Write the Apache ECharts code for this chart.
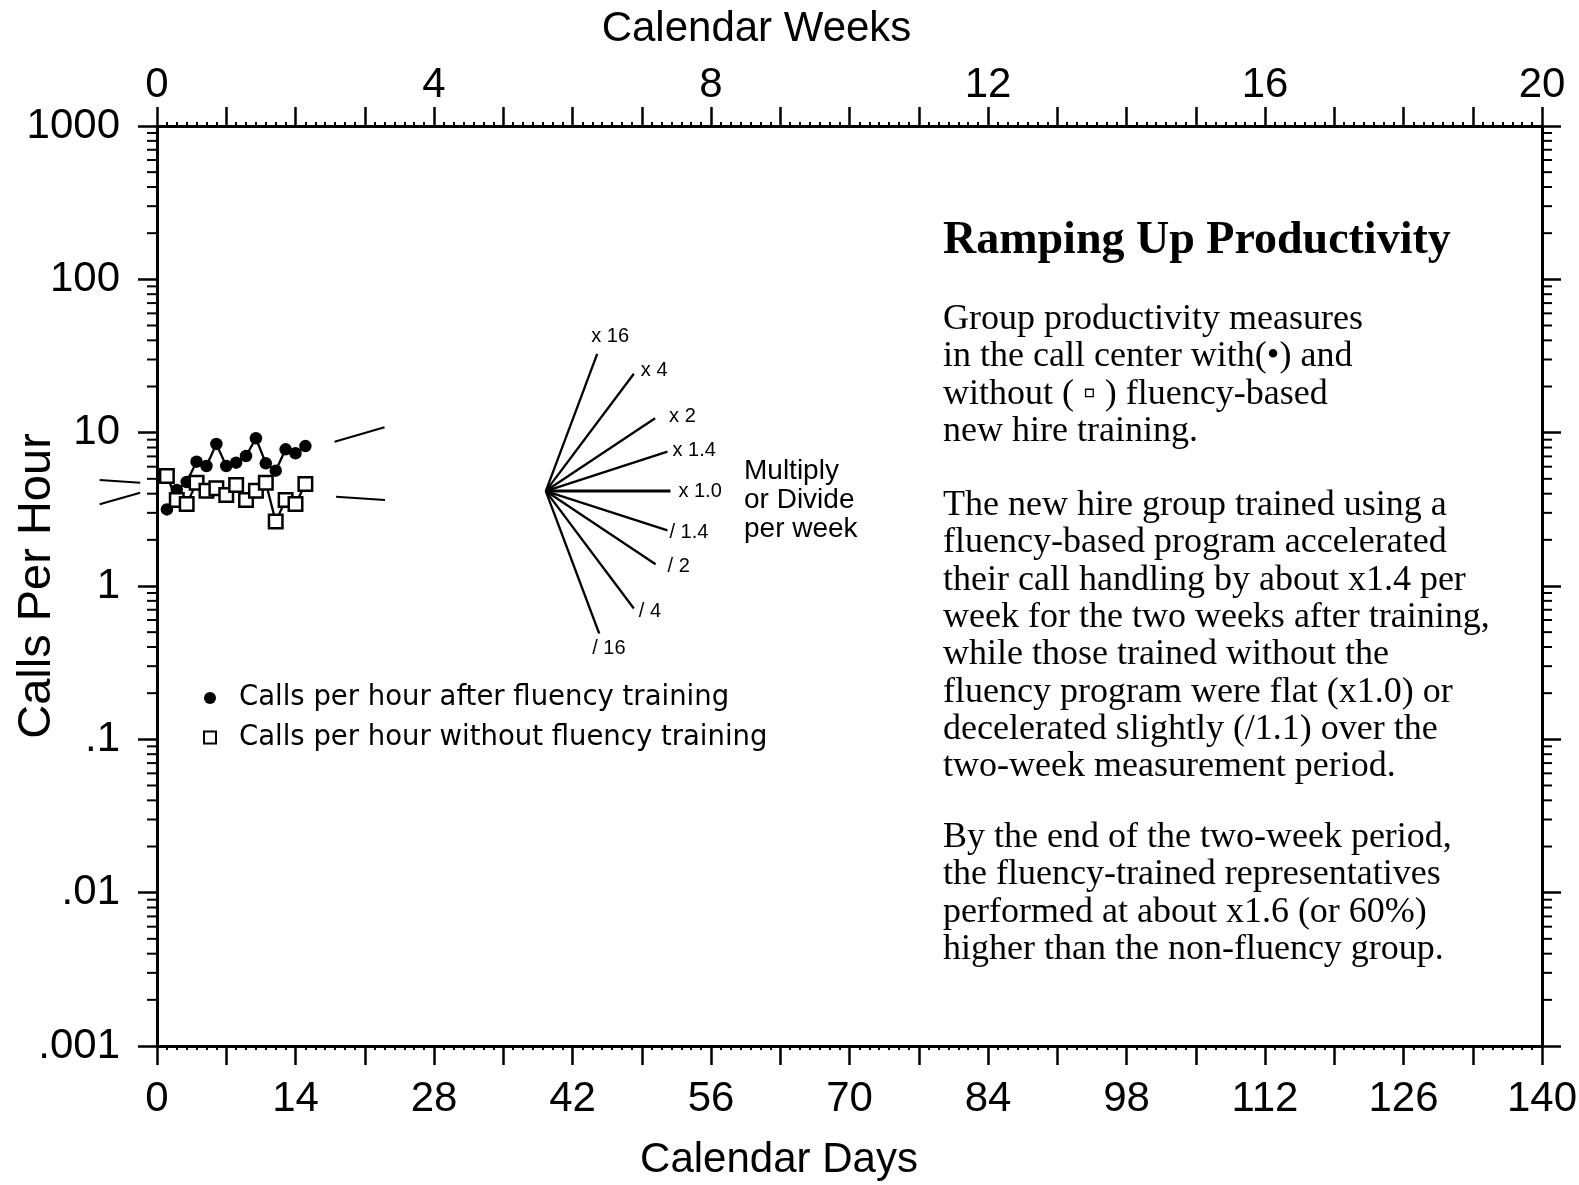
<!DOCTYPE html>
<html><head><meta charset="utf-8">
<script src="https://cdn.jsdelivr.net/npm/echarts@6/dist/echarts.min.js"></script>
<style>html,body{margin:0;padding:0;background:#fff}#c{width:1579px;height:1185px}</style>
</head><body><div id="c"></div>
<script>
// ---------- data ----------
const days = [1,2,3,4,5,6,7,8,9,10,11,12,13,14,15];
const fluencyCalls    = [3.16,4.23,4.77,6.47,6.06,8.44,6.06,6.37,7.04,9.19,6.31,5.65,7.79,7.34,8.18];
const nonFluencyCalls = [5.22,3.64,3.42,4.72,4.18,4.34,3.92,4.56,3.64,4.18,4.72,2.63,3.64,3.42,4.63];

// celeration projection lines [day, calls/hour]
const fluencyTrendBack    = [[-5.8,3.41],[-1.7,4.06]];
const fluencyTrendFwd     = [[17.95,8.73],[23.0,10.84]];
const nonFluencyTrendBack = [[-5.8,4.91],[-1.7,4.72]];
const nonFluencyTrendFwd  = [[18.1,3.82],[23.05,3.64]];

// standard celeration fan
const fanOrigin   = [39.3, 4.16];
const fanLabels   = ['x 16','x 4','x 2','x 1.4','x 1.0','/ 1.4','/ 2','/ 4','/ 16'];
const fanRatios   = [16,4,2,1.4,1,1/1.4,1/2,1/4,1/16];
const fanSpanDays = [5.2,8.9,11.05,12.3,12.6,12.3,11.1,8.9,5.4];

// tick labels
const dayTicks  = [0,14,28,42,56,70,84,98,112,126,140];
const weekTicks = [0,4,8,12,16,20];
const yTickLabels = {'-3':'.001','-2':'.01','-1':'.1','0':'1','1':'10','2':'100','3':'1000'};
const minorDecades = [-3,-2,-1,0,1,2];
const minorMultipliers = [2,3,4,5,6,7,8,9];

// texts
const legendNames = ['Calls per hour after fluency training','Calls per hour without fluency training'];
const titleText = 'Ramping Up Productivity';
const para1 = 'Group productivity measures\nin the call center with(\u2022) and\nwithout ( \u25AB ) fluency-based\nnew hire training.';
const para2 = 'The new hire group trained using a\nfluency-based program accelerated\ntheir call handling by about x1.4 per\nweek for the two weeks after training,\nwhile those trained without the\nfluency program were flat (x1.0) or\ndecelerated slightly (/1.1) over the\ntwo-week measurement period.';
const para3 = 'By the end of the two-week period,\nthe fluency-trained representatives\nperformed at about x1.6 (or 60%)\nhigher than the non-fluency group.';
const fanCaption = 'Multiply\nor Divide\nper week';

// ---------- styles ----------
const SANS = '"Liberation Sans", Arial, Helvetica, sans-serif';
const SERIF = '"Liberation Serif", "Times New Roman", serif';
const fanLabelOffsets = [[-6,-17],[7,-3],[14,-2],[5,-1],[8,0],[2,2],[12,2],[5,3],[-7,15]];

const chart = echarts.init(document.getElementById('c'), null, {renderer:'canvas'});

const minorVals = [];
minorDecades.forEach(d => minorMultipliers.forEach(k => minorVals.push([0, k*Math.pow(10,d)])));

const blackLine = {color:'#000', width:2.3};
const series = [];

// minor log ticks on left and right axes
series.push({
  type:'custom', silent:true, clip:false, data:minorVals, z:1,
  renderItem:(params, api) => {
    const v = api.value(1);
    const pl = api.coord([0, v]);
    const pr = api.coord([140, v]);
    return {type:'group', children:[
      {type:'line', shape:{x1:pl[0]-10,y1:pl[1],x2:pl[0],y2:pl[1]}, style:{stroke:'#000', lineWidth:2}},
      {type:'line', shape:{x1:pr[0],y1:pr[1],x2:pr[0]+10,y2:pr[1]}, style:{stroke:'#000', lineWidth:2}}
    ]};
  }
});

series.push({
  name: legendNames[0], type:'line', data: days.map((d,i)=>[d, fluencyCalls[i]]),
  symbol:'circle', symbolSize:12.5, itemStyle:{color:'#000'}, lineStyle:blackLine, z:3
});
series.push({
  name: legendNames[1], type:'line', data: days.map((d,i)=>[d, nonFluencyCalls[i]]),
  symbol:'rect', symbolSize:13.5, itemStyle:{color:'#fff', borderColor:'#000', borderWidth:2.5},
  lineStyle:blackLine, z:4
});

// celeration projection segments (drawn through the axes' scales, may extend outside the grid)
const trendSegments = [fluencyTrendBack, fluencyTrendFwd, nonFluencyTrendBack, nonFluencyTrendFwd];
series.push({
  type:'custom', silent:true, clip:false, z:2,
  data: trendSegments.map(s => [s[0][0], s[0][1], s[1][0], s[1][1]]),
  encode:{x:[0,2], y:[1,3]},
  renderItem:(params, api) => {
    const p1 = api.coord([api.value(0), api.value(1)]);
    const p2 = api.coord([api.value(2), api.value(3)]);
    return {type:'line', shape:{x1:p1[0], y1:p1[1], x2:p2[0], y2:p2[1]}, style:{stroke:'#000', lineWidth:2}};
  }
});

fanRatios.forEach((r, i) => {
  const end = [fanOrigin[0] + fanSpanDays[i], fanOrigin[1] * Math.pow(r, fanSpanDays[i]/7)];
  series.push({
    type:'line', data:[fanOrigin, end], symbol:'none', silent:true, clip:false,
    lineStyle:{color:'#000', width: r === 1 ? 3 : 2.3},
    endLabel:{show:true, formatter:fanLabels[i], distance:0, offset:fanLabelOffsets[i],
      fontFamily:SANS, fontSize:20, color:'#000'}
  });
});

const axisLineStyle = {show:true, onZero:false, lineStyle:{color:'#000', width:3}};
const majorTick = {show:true, inside:false, length:19, lineStyle:{color:'#000', width:2.5}};
const minorTick = {show:true, splitNumber:7, length:4, lineStyle:{color:'#000', width:2}};

chart.setOption({
  animation:false,
  backgroundColor:'#fff',
  grid:{left:157, right:37, top:126, bottom:139, containLabel:false, outerBoundsMode:'none'},
  legend:{
    show:true, orient:'vertical', left:198, top:679, itemWidth:12, itemHeight:12, itemGap:11.5,
    selectedMode:false,
    textStyle:{fontFamily:'"DejaVu Sans", Verdana, sans-serif', fontSize:27.5, color:'#000', padding:[0,0,0,18]},
    data:[
      {name:legendNames[0], icon:'circle', itemStyle:{color:'#000'}},
      {name:legendNames[1], icon:'rect', itemStyle:{color:'#fff', borderColor:'#000', borderWidth:2}}
    ]
  },
  xAxis:[
    {type:'value', position:'bottom', min:0, max:140, interval:7,
     axisLine:axisLineStyle, axisTick:majorTick, minorTick:minorTick, splitLine:{show:false}, minorSplitLine:{show:false},
     axisLabel:{margin:32, fontFamily:SANS, fontSize:42, color:'#000',
       formatter:v => dayTicks.indexOf(v) >= 0 ? String(v) : ''},
     name:'Calendar Days', nameLocation:'middle', nameGap:93, nameMoveOverlap:false,
     nameTextStyle:{fontFamily:SANS, fontSize:42, color:'#000', padding:[0,141,0,0]}},
    {type:'value', position:'top', min:0, max:20, interval:1,
     axisLine:axisLineStyle, axisTick:majorTick, minorTick:minorTick, splitLine:{show:false}, minorSplitLine:{show:false},
     axisLabel:{margin:20, fontFamily:SANS, fontSize:42, color:'#000',
       formatter:v => weekTicks.indexOf(v) >= 0 ? String(v) : ''},
     name:'Calendar Weeks', nameLocation:'middle', nameGap:76, nameMoveOverlap:false,
     nameTextStyle:{fontFamily:SANS, fontSize:42, color:'#000', padding:[0,186,0,0]}}
  ],
  yAxis:[
    {type:'log', logBase:10, min:0.001, max:1000, splitNumber:6, position:'left',
     axisLine:axisLineStyle, axisTick:majorTick, splitLine:{show:false},
     axisLabel:{margin:37, fontFamily:SANS, fontSize:42, color:'#000',
       formatter:v => { const e = Math.round(Math.log10(v)); return yTickLabels[String(e)] || ''; }},
     name:'Calls Per Hour', nameLocation:'middle', nameRotate:90, nameGap:96, nameMoveOverlap:false,
     nameTextStyle:{fontFamily:SANS, fontSize:47, color:'#000'}},
    {type:'log', logBase:10, min:0.001, max:1000, splitNumber:6, position:'right',
     axisLine:axisLineStyle, axisTick:majorTick, splitLine:{show:false}, axisLabel:{show:false}}
  ],
  graphic:[
    {type:'text', left:943, top:218, style:{text:titleText, font:'bold 46px ' + SERIF, fill:'#000'}},
    {type:'text', left:943, top:301, style:{text:para1, font:'36px ' + SERIF, fill:'#000', lineHeight:37.3}},
    {type:'text', left:943, top:487, style:{text:para2, font:'36px ' + SERIF, fill:'#000', lineHeight:37.3}},
    {type:'text', left:943, top:819, style:{text:para3, font:'36px ' + SERIF, fill:'#000', lineHeight:37.3}},
    {type:'text', left:744, top:457, style:{text:fanCaption, font:'28px ' + SANS, fill:'#000', lineHeight:29}}
  ],
  series: series
});
</script></body></html>
